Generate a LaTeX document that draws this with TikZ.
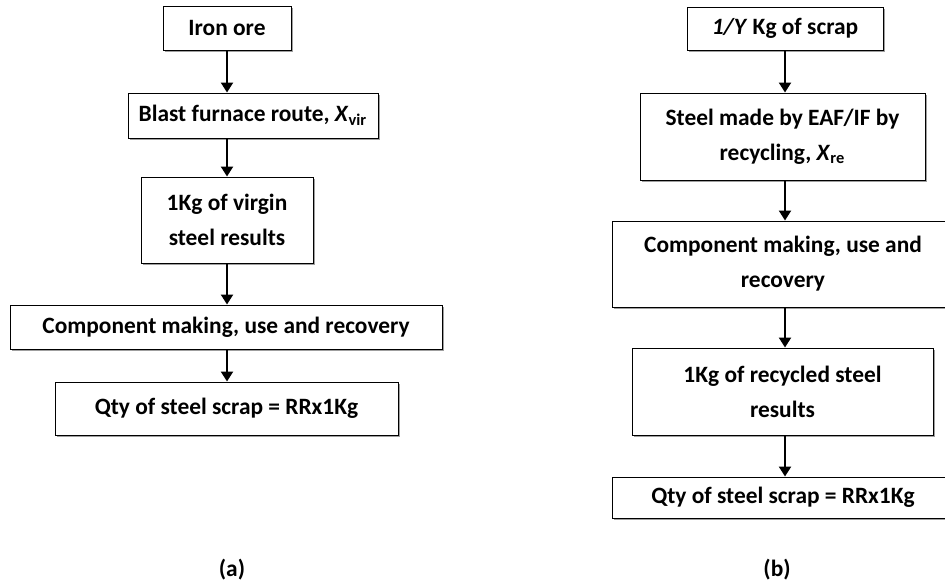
\documentclass[tikz,border=0pt]{standalone}
\usepackage{fontspec}
\setmainfont{Carlito}
\usepackage{tikz}
\usetikzlibrary{arrows.meta,positioning,shadows}
\tikzset{
  box/.style={draw=black, line width=0.5pt, fill=white, align=center,
              inner sep=1pt, font=\bfseries\fontsize{11.7}{17.5}\selectfont,
              drop shadow={shadow xshift=0.9pt, shadow yshift=-0.9pt,
                           fill=gray!75, opacity=1}},
  arrow/.style={-{Triangle[length=5pt,width=6pt]}, line width=1.1pt, draw=black},
  tag/.style={font=\bfseries\fontsize{11.7}{13}\selectfont, inner sep=1pt},
}

\begin{document}
\begin{tikzpicture}[x=0.5pt,y=-0.5pt]
  \clip (0,0) rectangle (945,586);
  % (a) virgin route
  \node[box, minimum width=64pt, minimum height=22pt] (iron) at (227,28) {Iron ore};
  \node[box, minimum width=125pt, minimum height=22.5pt] (blast) at (253,115.5)
    {Blast furnace route, \textit{X}\textsubscript{vir}};
  \node[box, minimum width=86pt, minimum height=43pt] (virgin) at (227,220)
    {1Kg of virgin\\steel results};
  \node[box, minimum width=216pt, minimum height=22pt] (compa) at (226,327)
    {Component making, use and recovery};
  \node[box, minimum width=171.5pt, minimum height=26.5pt] (scrapa) at (226.5,408.5)
    {Qty of steel scrap = RRx1Kg};
  \node[tag] (capa) at (232,570) {(a)};
  \draw[arrow] (iron.south) -- (iron.south |- blast.north);
  \draw[arrow] (iron.south |- blast.south) -- (virgin.north);
  \draw[arrow] (virgin.south) -- (virgin.south |- compa.north);
  \draw[arrow] (virgin.south |- compa.south) -- (virgin.south |- scrapa.north);
  % (b) recycled route
  \node[box, minimum width=98pt, minimum height=21.5pt] (scrapin) at (785,28.5)
    {\textit{1/Y} Kg of scrap};
  \node[box, minimum width=142.5pt, minimum height=43.5pt] (eaf) at (782.5,136.5)
    {Steel made by EAF/IF by\\recycling, \textit{X}\textsubscript{re}};
  \node[box, minimum width=171pt, minimum height=43pt] (compb) at (783,264)
    {Component making, use and\\recovery};
  \node[box, minimum width=150.5pt, minimum height=43.5pt] (recyc) at (782.5,391.5)
    {1Kg of recycled steel\\results};
  \node[box, minimum width=171pt, minimum height=20.5pt] (scrapb) at (783,497.5)
    {Qty of steel scrap = RRx1Kg};
  \node[tag] (capb) at (777,570) {(b)};
  \draw[arrow] (scrapin.south) -- (scrapin.south |- eaf.north);
  \draw[arrow] (scrapin.south |- eaf.south) -- (scrapin.south |- compb.north);
  \draw[arrow] (scrapin.south |- compb.south) -- (scrapin.south |- recyc.north);
  \draw[arrow] (scrapin.south |- recyc.south) -- (scrapin.south |- scrapb.north);
\end{tikzpicture}
\end{document}
